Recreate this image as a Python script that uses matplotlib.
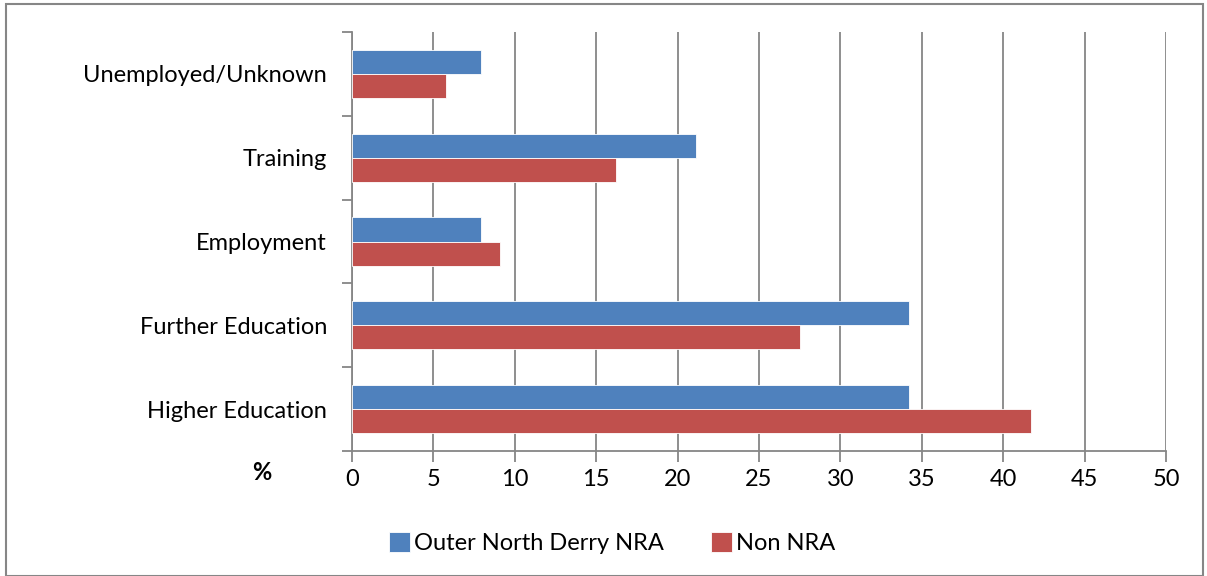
import matplotlib
matplotlib.use("Agg")
import matplotlib.pyplot as plt
import numpy as np
from matplotlib.patches import Rectangle

categories = ["Higher Education", "Further Education", "Employment", "Training", "Unemployed/Unknown"]
outer_north = [34.2, 34.2, 7.9, 21.1, 7.9]
non_nra = [41.7, 27.5, 9.1, 16.2, 5.8]
series_names = ["Outer North Derry NRA", "Non NRA"]
xticks = list(range(0, 55, 5))

plt.rcParams['font.family'] = ['Lato', 'DejaVu Sans']
FS = 17

fig = plt.figure(figsize=(12.07, 5.76), dpi=100)
ax = fig.add_axes([352/1207, 1-451/576, (1166-352)/1207, (451-32)/576])

y = np.arange(len(categories))
h = 0.287
blue = "#4f81bd"
red = "#c0504d"
ax.barh(y + h/2, outer_north, height=h, color=blue, edgecolor="#ffffff", linewidth=0.6, label=series_names[0], zorder=3)
ax.barh(y - h/2, non_nra, height=h, color=red, edgecolor="#ffffff", linewidth=0.6, label=series_names[1], zorder=3)

ax.set_xlim(0, 50)
ax.set_ylim(-0.5, len(categories) - 0.5)
ax.set_xticks(xticks)
ax.set_xticklabels([str(t) for t in xticks], fontsize=FS)
ax.set_yticks(y)
ax.set_yticklabels(categories, fontsize=FS)
ax.tick_params(axis='y', length=0, pad=18)
ax.set_yticks(np.arange(-0.5, len(categories)), minor=True)
ax.tick_params(axis='y', which='minor', length=7, color="#868686", width=1.3)
ax.tick_params(axis='x', length=8, color="#868686", width=1.3, pad=5)
ax.xaxis.grid(True, color="#868686", linewidth=1.3, zorder=0)
for s in ["top", "right"]:
    ax.spines[s].set_visible(False)
for s in ["left", "bottom"]:
    ax.spines[s].set_color("#868686")
    ax.spines[s].set_linewidth(1.3)
ax.set_axisbelow(True)

fig.text(262/1207, 1-473/576, "%", fontsize=FS, fontweight="bold", ha="center", va="center")

fig.legend(loc="center", bbox_to_anchor=(612/1207, 1-543/576), ncol=2, frameon=False,
           fontsize=FS, handlelength=0.9, handleheight=0.9, handletextpad=0.15, columnspacing=2.0)

fig.patches.append(Rectangle((6/1207, 0), (1203-6)/1207, 1-4/576, transform=fig.transFigure,
                             fill=False, edgecolor="#868686", linewidth=1.5))

fig.savefig("out.png", dpi=100)
